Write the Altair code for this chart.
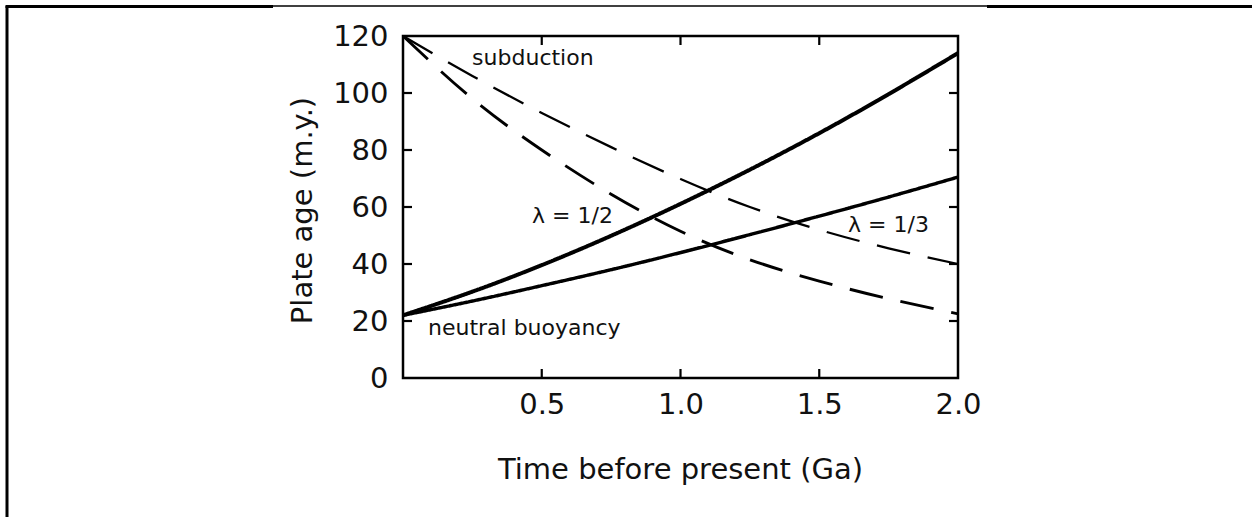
import altair as alt
import pandas as pd

# Time before present (Ga) at which each curve is sampled
time_ga = [0.0, 0.25, 0.5, 0.75, 1.0, 1.25, 1.5, 1.75, 2.0]

# Plate age (m.y.) for each curve
neutral_half = [22, 30.3, 39.6, 49.9, 61.1, 73.1, 85.9, 99.6, 114]
neutral_third = [22, 27, 32.4, 38, 44, 50.3, 56.8, 63.5, 70.5]
subduction_half = [120, 98, 80, 64.5, 51.5, 41.5, 34, 27.8, 22.5]
subduction_third = [120, 106, 93, 81, 69.8, 60, 52, 45.5, 40]

series_names = [
    "neutral buoyancy, λ = 1/2",
    "neutral buoyancy, λ = 1/3",
    "subduction, λ = 1/2",
    "subduction, λ = 1/3",
]
series_values = [neutral_half, neutral_third, subduction_half, subduction_third]

# Axis ticks
x_ticks = [0.5, 1.0, 1.5, 2.0]
y_ticks = [0, 20, 40, 60, 80, 100, 120]

# In-plot annotations (anchored in data coordinates)
note_text = ["subduction", "λ = 1/2", "λ = 1/3", "neutral buoyancy"]
note_time = [0.249, 0.465, 1.604, 0.09]
note_age = [109.8, 54.4, 51.2, 15.1]

rows = []
for name, vals in zip(series_names, series_values):
    for t, a in zip(time_ga, vals):
        rows.append({"series": name, "t": t, "age": a})
curves = pd.DataFrame(rows)

notes = pd.DataFrame({"label": note_text, "t": note_time, "age": note_age})
ytick_df = pd.DataFrame({"age": y_ticks[1:-1]})
xtick_df = pd.DataFrame({"t": x_ticks[:-1]})
one_row = pd.DataFrame({"k": [0]})

FONT = "DejaVu Sans"
INK = "#111111"
W, H = 555, 342

x_scale = alt.Scale(domain=[0, 2], nice=False, zero=False)
y_scale = alt.Scale(domain=[0, 120], nice=False)

x_axis = alt.Axis(
    values=x_ticks, format=".1f", title="Time before present (Ga)",
    labelFont=FONT, labelFontSize=29, labelColor=INK, labelPadding=12,
    labelFlush=False, labelOverlap=False,
    ticks=False, tickSize=0, domain=False, grid=False,
    titleFont=FONT, titleFontSize=29, titleFontWeight="normal", titleColor=INK,
    titleX=277, titleY=100, titleAlign="center", titleBaseline="alphabetic",
)
y_axis = alt.Axis(
    values=y_ticks, format="d", title="Plate age (m.y.)",
    labelFont=FONT, labelFontSize=29, labelColor=INK, labelPadding=15,
    labelFlush=False, labelOverlap=False,
    ticks=False, tickSize=0, domain=False, grid=False,
    titleFont=FONT, titleFontSize=29, titleFontWeight="normal", titleColor=INK,
    titleX=-92, titleY=174, titleAlign="center", titleBaseline="alphabetic",
    titleAngle=270,
)

X = alt.X("t:Q", scale=x_scale, axis=x_axis)
Y = alt.Y("age:Q", scale=y_scale, axis=y_axis)

lines = alt.Chart(curves).mark_line(
    color="black", interpolate="natural", strokeCap="butt"
).encode(
    x=X,
    y=Y,
    detail="series:N",
    strokeWidth=alt.StrokeWidth(
        "series:N",
        scale=alt.Scale(domain=series_names, range=[4, 2.3, 4, 2.3]),
        legend=None,
    ),
    strokeDash=alt.StrokeDash(
        "series:N",
        scale=alt.Scale(domain=series_names,
                        range=[[1, 0], [1, 0], [34, 18], [34, 18]]),
        legend=None,
    ),
)

labels = alt.Chart(notes).mark_text(
    align="left", baseline="alphabetic", font=FONT, fontSize=22, color=INK
).encode(x=X, y=Y, text="label:N")

# Inward-pointing tick marks on all four sides of the frame
tick_style = dict(color="black", strokeWidth=2.2)
left_ticks = alt.Chart(ytick_df).mark_rule(**tick_style).encode(
    y=Y, x=alt.value(0), x2=alt.value(9))
right_ticks = alt.Chart(ytick_df).mark_rule(**tick_style).encode(
    y=Y, x=alt.value(W), x2=alt.value(W - 9))
bottom_ticks = alt.Chart(xtick_df).mark_rule(**tick_style).encode(
    x=X, y=alt.value(H), y2=alt.value(H - 9))
top_ticks = alt.Chart(xtick_df).mark_rule(**tick_style).encode(
    x=X, y=alt.value(0), y2=alt.value(9))

# Page border around the figure
border_left = alt.Chart(one_row).mark_rule(color="black", strokeWidth=3).encode(
    x=alt.value(-396), y=alt.value(-30), y2=alt.value(481))
border_top_a = alt.Chart(one_row).mark_rule(color="black", strokeWidth=3).encode(
    y=alt.value(-29.5), x=alt.value(-397.5), x2=alt.value(-130))
border_top_b = alt.Chart(one_row).mark_rule(color="black", strokeWidth=1.5).encode(
    y=alt.value(-30), x=alt.value(-130), x2=alt.value(584))
border_top_c = alt.Chart(one_row).mark_rule(color="black", strokeWidth=3).encode(
    y=alt.value(-29.5), x=alt.value(584), x2=alt.value(849))

chart = alt.layer(
    lines, labels, left_ticks, right_ticks, bottom_ticks, top_ticks,
    border_left, border_top_a, border_top_b, border_top_c,
).properties(
    width=W,
    height=H,
    padding={"left": 403, "top": 36, "right": 1252 - 403 - W, "bottom": 517 - 36 - H},
    autosize=alt.AutoSizeParams(type="none"),
    background="white",
).configure_view(
    stroke="black", strokeWidth=2.5
)

chart.save("out.html", embed_options={"renderer": "svg", "actions": False})
